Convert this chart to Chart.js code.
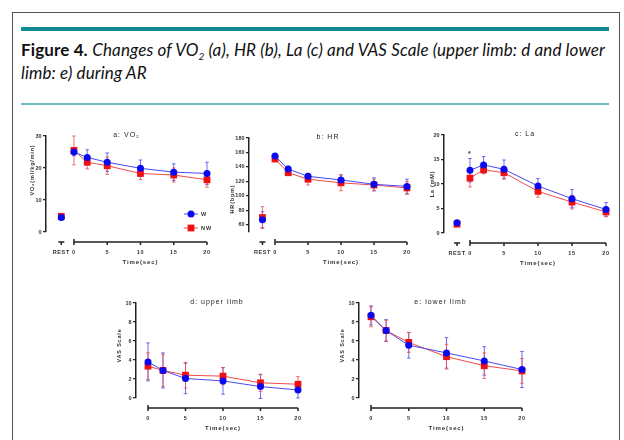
<!DOCTYPE html>
<html>
<head>
<meta charset="utf-8">
<script src="https://cdn.jsdelivr.net/npm/chart.js@4.4.1/dist/chart.umd.min.js"></script>
<style>
  body { margin: 0; background: #fff; width: 624px; height: 440px; overflow: hidden; position: relative; }
  #frame { position: absolute; left: 12px; top: 12px; width: 606px; height: 440px; border: 1px solid #555; border-bottom: none; }
  .bar { position: absolute; left: 21px; width: 588px; top: 27px; height: 4px; background: #128b8e; }
  .thin { position: absolute; left: 21px; width: 588px; top: 103px; height: 1.5px; background: #6cbcc0; }
  #caption { position: absolute; left: 21px; top: 38px; font-family: Lato, sans-serif; font-size: 17px; line-height: 23px; letter-spacing: 0.12px; color: #111; white-space: nowrap; }
  #caption b { font-weight: 700; }
  #caption sub { font-size: 10px; line-height: 0; vertical-align: baseline; position: relative; top: 4px; }
  canvas { position: absolute; }
</style>
</head>
<body>
<div id="frame"></div>
<div class="bar"></div>
<div id="caption"><b>Figure 4.</b> <i>Changes of VO<sub>2</sub> (a), HR (b), La (c) and VAS Scale (upper limb: d and lower<br>limb: e) during AR</i></div>
<div class="thin"></div>

<script>
// time points (sec) and x tick labels
const times = [0, 2, 5, 10, 15, 20];
const xTickLabels = [0, 5, 10, 15, 20];
const restLabel = 'REST';
const groupNames = ['W', 'NW'];

// a: VO2 (ml/kg/min)
const vo2W = [25.0, 23.3, 21.8, 19.9, 18.7, 18.3];
const vo2NW = [25.5, 21.8, 20.7, 18.3, 17.8, 16.3];
const vo2WErr = [1.2, 2.4, 2.9, 2.6, 2.6, 3.5];
const vo2NWErr = [4.5, 2.1, 2.7, 1.9, 2.2, 2.3];
const vo2Rest = [4.5, 4.9];
const vo2RestErr = [0.4, 0.4];
const vo2Ticks = [0, 10, 20, 30];

// b: HR (bpm)
const hrW = [155, 137, 127, 122, 116, 113];
const hrNW = [151, 132, 123, 118, 115, 111];
const hrWErr = [3, 4, 4, 7, 9, 10];
const hrNWErr = [4, 4, 8, 11, 8, 9];
const hrRest = [67, 70];
const hrRestErr = [11, 15];
const hrTicks = [60, 80, 100, 120, 140, 160, 180];

// c: La (mM)
const laW = [12.8, 13.9, 13.0, 9.6, 7.0, 4.8];
const laNW = [11.2, 12.9, 12.3, 8.5, 6.3, 4.3];
const laWErr = [2.4, 1.7, 1.9, 1.5, 1.85, 1.4];
const laNWErr = [1.8, 0.8, 1.3, 1.2, 1.4, 1.0];
const laRest = [2.1, 1.8];
const laRestErr = [0.3, 0.3];
const laTicks = [0, 5, 10, 15, 20];

// d: VAS upper limb
const upperW = [3.8, 2.9, 2.05, 1.8, 1.2, 0.85];
const upperNW = [3.35, 2.9, 2.4, 2.3, 1.6, 1.45];
const upperWErr = [2.0, 1.85, 1.6, 1.4, 1.25, 0.85];
const upperNWErr = [1.4, 1.7, 1.35, 0.9, 0.9, 0.8];

// e: VAS lower limb
const lowerW = [8.7, 7.1, 5.55, 4.75, 3.9, 3.0];
const lowerNW = [8.55, 7.1, 5.85, 4.35, 3.4, 2.85];
const lowerWErr = [1.0, 1.15, 1.35, 1.6, 1.5, 1.9];
const lowerNWErr = [1.05, 1.1, 1.05, 1.3, 1.35, 1.3];
const vasTicks = [0, 2, 4, 6, 8, 10];

const restX = -1.9;
const BLUE = '#0a0af0', BLUE_LINE = '#4848f4';
const RED = '#f01010', RED_LINE = '#f04c4c';
const FONT = '"Liberation Sans", Arial, sans-serif';

// panel layout: chart area box in page pixels
const panels = [
  { box: [46, 207, 136, 232], xMin: -4.2, yw: 17.6, yShift: -14, title: 'a: VO\u2082', yTitle: 'VO\u2082(ml/kg/min)',
    yMin: 0, yMax: 30, yTicks: vo2Ticks, w: vo2W, nw: vo2NW, wErr: vo2WErr, nwErr: vo2NWErr,
    rest: vo2Rest, restErr: vo2RestErr, legend: true },
  { box: [249, 407, 138, 231.5], xMin: -3.94, yw: 20.6, yShift: 14, title: 'b: HR', yTitle: 'HR(bpm)',
    yMin: 50, yMax: 180, yTicks: hrTicks, w: hrW, nw: hrNW, wErr: hrWErr, nwErr: hrNWErr,
    rest: hrRest, restErr: hrRestErr },
  { box: [444, 606, 134.5, 232], xMin: -3.82, yw: 15.6, yShift: 0, title: 'c: La', yTitle: 'La (mM)',
    yMin: 0, yMax: 20, yTicks: laTicks, w: laW, nw: laNW, wErr: laWErr, nwErr: laNWErr,
    rest: laRest, restErr: laRestErr, star: true },
  { box: [136, 298, 302.7, 398], xMin: -1.6, yw: 20.6, yShift: -5, title: 'd: upper limb', yTitle: 'VAS Scale',
    yMin: 0, yMax: 10, yTicks: vasTicks, w: upperW, nw: upperNW, wErr: upperWErr, nwErr: upperNWErr },
  { box: [359, 522, 302.7, 398], xMin: -1.59, yw: 20.6, yShift: -5, title: 'e: lower limb', yTitle: 'VAS Scale',
    yMin: 0, yMax: 10, yTicks: vasTicks, w: lowerW, nw: lowerNW, wErr: lowerWErr, nwErr: lowerNWErr }
];

function pts(xs, ys) {
  return xs.map((x, i) => ({ x: x, y: ys[i] }));
}

function drawMarker(ctx, style, x, y) {
  ctx.beginPath();
  if (style === 'circle') {
    ctx.fillStyle = BLUE;
    ctx.arc(x, y, 3.5, 0, Math.PI * 2);
  } else {
    ctx.fillStyle = RED;
    ctx.rect(x - 3.4, y - 3.4, 6.8, 6.8);
  }
  ctx.fill();
}

const prism = {
  id: 'prism',
  beforeDatasetsDraw(chart) {
    const ctx = chart.ctx, xs = chart.scales.x, ys = chart.scales.y;
    chart.data.datasets.forEach(ds => {
      if (!ds.errors) return;
      ctx.save();
      ctx.strokeStyle = ds.errColor;
      ctx.lineWidth = 0.8;
      ds.data.forEach((p, i) => {
        const e = ds.errors[i];
        const px = xs.getPixelForValue(p.x);
        const y1 = ys.getPixelForValue(p.y + e), y2 = ys.getPixelForValue(p.y - e);
        ctx.beginPath();
        ctx.moveTo(px, y1); ctx.lineTo(px, y2);
        ctx.moveTo(px - 1.8, y1); ctx.lineTo(px + 1.8, y1);
        ctx.moveTo(px - 1.8, y2); ctx.lineTo(px + 1.8, y2);
        ctx.stroke();
      });
      ctx.restore();
    });
  },
  afterDraw(chart) {
    const o = chart.options.plugins.prism;
    const ctx = chart.ctx, a = chart.chartArea, xs = chart.scales.x, ys = chart.scales.y;
    const axY = a.bottom + 10;
    ctx.save();
    ctx.strokeStyle = '#222';
    ctx.lineWidth = 1.5;
    ctx.beginPath();
    const x0 = xs.getPixelForValue(times[0]);
    const x1 = xs.getPixelForValue(times[times.length - 1]);
    ctx.moveTo(x0, axY); ctx.lineTo(x1, axY);
    xTickLabels.forEach(v => {
      const px = xs.getPixelForValue(v);
      ctx.moveTo(px, axY); ctx.lineTo(px, axY + 3);
    });
    ctx.moveTo(x0, axY - 3); ctx.lineTo(x0, axY);
    if (o.rest) {
      const rp = xs.getPixelForValue(restX);
      ctx.moveTo(rp - 3, axY); ctx.lineTo(rp + 3, axY);
      ctx.moveTo(rp, axY); ctx.lineTo(rp, axY + 3);
    }
    ctx.stroke();

    ctx.fillStyle = '#333';
    ctx.textAlign = 'center';
    ctx.textBaseline = 'middle';
    ctx.letterSpacing = '0.6px';
    ctx.font = 'bold 5.5px ' + FONT;
    xTickLabels.forEach(v => ctx.fillText(String(v), xs.getPixelForValue(v), axY + 10));
    if (o.rest) ctx.fillText(restLabel, xs.getPixelForValue(restX), axY + 10);

    ctx.letterSpacing = '0.9px';
    ctx.font = 'bold 6px ' + FONT;
    ctx.fillText('Time(sec)', xs.getPixelForValue(10), axY + 20);

    // y title
    ctx.save();
    ctx.translate(a.left - o.yOff, (a.top + a.bottom) / 2 + o.yShift);
    ctx.rotate(-Math.PI / 2);
    ctx.letterSpacing = '0.8px';
    ctx.font = 'bold 5.5px ' + FONT;
    ctx.fillText(o.yTitle, 0, 0);
    ctx.restore();

    // panel title
    ctx.letterSpacing = '1px';
    ctx.font = '7px ' + FONT;
    ctx.fillStyle = '#222';
    ctx.fillText(o.title, (a.left + a.right) / 2, a.top - 1);

    if (o.legend) {
      const styles = ['circle', 'rect'];
      const lineCols = [BLUE_LINE, RED_LINE];
      groupNames.forEach((g, i) => {
        const ly = a.bottom - 18 + i * 14;
        ctx.strokeStyle = lineCols[i];
        ctx.lineWidth = 1;
        ctx.beginPath(); ctx.moveTo(a.right - 23, ly); ctx.lineTo(a.right - 9, ly); ctx.stroke();
        drawMarker(ctx, styles[i], a.right - 16, ly);
        ctx.fillStyle = '#333';
        ctx.textAlign = 'left';
        ctx.letterSpacing = '1px';
        ctx.font = 'bold 5.5px ' + FONT;
        ctx.fillText(g, a.right - 6, ly);
      });
    }

    if (o.star) {
      const ds = chart.data.datasets[0];
      const px = xs.getPixelForValue(ds.data[0].x);
      const py = ys.getPixelForValue(ds.data[0].y + ds.errors[0]) - 6;
      ctx.fillStyle = '#333';
      ctx.textAlign = 'center';
      ctx.font = 'bold 7px ' + FONT;
      ctx.fillText('*', px, py + 1.5);
    }
    ctx.restore();
  }
};

panels.forEach(p => {
  const [ax, right, top, bottom] = p.box;
  const padL = 30, padT = 18, padR = 12, padB = 42;
  const canvas = document.createElement('canvas');
  const cw = Math.round(right - ax + padL + padR);
  const ch = Math.round(bottom - top + padT + padB);
  canvas.width = cw;
  canvas.height = ch;
  canvas.style.left = (ax - padL) + 'px';
  canvas.style.top = (top - padT) + 'px';
  document.body.appendChild(canvas);

  const lineDs = (label, vals, errs, isW) => ({
    label: label,
    data: pts(times, vals),
    errors: errs,
    errColor: isW ? BLUE_LINE : RED_LINE,
    borderColor: isW ? BLUE_LINE : RED_LINE,
    backgroundColor: isW ? BLUE : RED,
    pointBackgroundColor: isW ? BLUE : RED,
    pointBorderWidth: 0,
    pointStyle: isW ? 'circle' : 'rect',
    pointRadius: isW ? 3.5 : 4.8,
    borderWidth: 1,
    tension: 0,
    clip: false
  });

  const datasets = [
    lineDs(groupNames[0], p.w, p.wErr, true),
    lineDs(groupNames[1], p.nw, p.nwErr, false)
  ];
  if (p.rest) {
    p.rest.forEach((v, i) => {
      const isW = i === 0;
      datasets.push({
        label: groupNames[i] + ' rest',
        data: [{ x: restX, y: v }],
        errors: [p.restErr[i]],
        errColor: isW ? BLUE_LINE : RED_LINE,
        showLine: false,
        pointBackgroundColor: isW ? BLUE : RED,
        pointBorderWidth: 0,
        pointStyle: isW ? 'circle' : 'rect',
        pointRadius: isW ? 3.5 : 4.8,
        order: isW ? 0 : 1,
        clip: false
      });
    });
  }

  new Chart(canvas.getContext('2d'), {
    type: 'line',
    data: { datasets: datasets },
    plugins: [prism],
    options: {
      responsive: false,
      animation: false,
      devicePixelRatio: 1,
      layout: { padding: { left: padL - p.yw, top: padT, right: padR, bottom: padB } },
      plugins: {
        legend: { display: false },
        tooltip: { enabled: false },
        prism: { title: p.title, yTitle: p.yTitle, yOff: p.yw - 3.6, yShift: p.yShift,
                 rest: !!p.rest, legend: !!p.legend, star: !!p.star }
      },
      scales: {
        x: { type: 'linear', display: false, min: p.xMin, max: 20 },
        y: {
          min: p.yMin,
          max: p.yMax,
          afterBuildTicks: s => { s.ticks = p.yTicks.map(v => ({ value: v })); },
          afterFit: s => { s.width = p.yw; },
          grid: { drawOnChartArea: false, drawTicks: true, tickLength: 3, color: '#222', lineWidth: 1.2 },
          border: { display: true, color: '#222', width: 1.5 },
          ticks: { font: { family: FONT, size: 5.5, weight: 'bold' }, color: '#333', padding: 1.5 }
        }
      }
    }
  });
});
</script>
</body>
</html>
